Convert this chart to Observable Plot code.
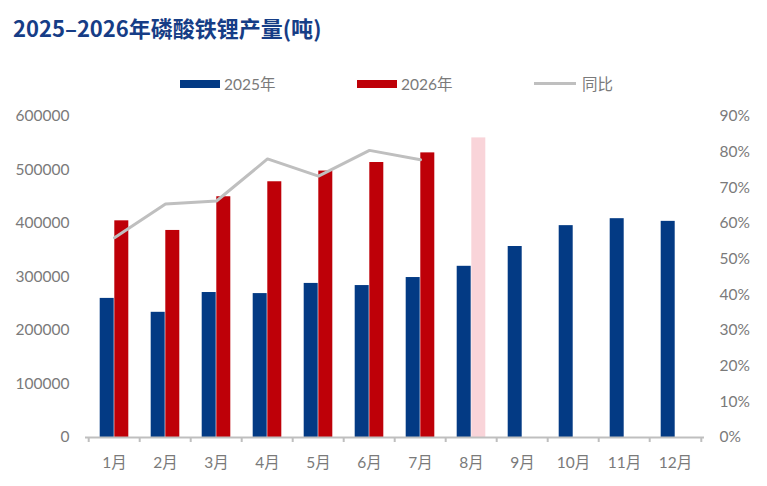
<!DOCTYPE html>
<html>
<head>
<meta charset="utf-8">
<script src="https://cdn.jsdelivr.net/npm/d3@7"></script>
<script src="https://cdn.jsdelivr.net/npm/@observablehq/plot@0.6"></script>
<style>
  html, body { margin: 0; padding: 0; background: #fff; }
  #wrap { position: relative; width: 767px; height: 486px; overflow: hidden; }
  #header { position: relative; width: 767px; height: 105px; }
  #title { position: absolute; left: 13px; top: 11px; font-family: "Noto Sans CJK SC", sans-serif; font-weight: 700; font-size: 22px; color: #163d86; white-space: nowrap; line-height: 32px; }
  .lg { position: absolute; font-family: Lato, "Noto Sans CJK SC", sans-serif; font-size: 15.5px; color: #7a7a7a; line-height: 20px; top: 74px; white-space: nowrap; }
  .sw { position: absolute; }
  #chart svg { display: block; }
</style>
</head>
<body>
<div id="wrap">
  <div id="header">
    <div id="title">2025–2026年磷酸铁锂产量(吨)</div>
    <div class="sw" style="left:180px;top:80px;width:40px;height:8px;background:#033a84"></div>
    <div class="lg" style="left:224px">2025年</div>
    <div class="sw" style="left:357px;top:80px;width:40px;height:8px;background:#be0008"></div>
    <div class="lg" style="left:401px">2026年</div>
    <div class="sw" style="left:534px;top:82px;width:42px;height:3px;background:#bfbfbf"></div>
    <div class="lg" style="left:582px">同比</div>
  </div>
  <div id="chart"></div>
</div>
<script>
const months = ["1月","2月","3月","4月","5月","6月","7月","8月","9月","10月","11月","12月"];
const output2025 = [260000, 234000, 271000, 269000, 288000, 284000, 299000, 320000, 357000, 396000, 409000, 404000];
const output2026 = [405000, 387000, 450000, 478000, 498000, 514000, 532000, 560000];
const yoy = [0.56, 0.655, 0.663, 0.781, 0.733, 0.805, 0.779];
const forecastMonths = ["8月"];
const leftTicks = [0, 100000, 200000, 300000, 400000, 500000, 600000];
const rightTicks = [0, 0.1, 0.2, 0.3, 0.4, 0.5, 0.6, 0.7, 0.8, 0.9];

const yMax = 600000, pMax = 0.9;
const k = yMax / pMax;

const bars2025 = output2025.map((v, i) => ({month: months[i], value: v}));
const bars2026 = output2026.map((v, i) => ({month: months[i], value: v}));
const lineData = yoy.map((v, i) => ({month: months[i], value: v}));

const W = 767, H = 381, mL = 85, mR = 63;
const step = (W - mL - mR) / months.length;
const grey = "#bfbfbf";
const txt = "#7a7a7a";
const font = "Lato, 'Noto Sans CJK SC', sans-serif";

const chart = Plot.plot({
  width: W,
  height: H,
  marginLeft: mL,
  marginRight: mR,
  marginTop: 11,
  marginBottom: 49,
  style: {fontFamily: font, fontSize: "15.5px", color: txt, background: "#fff"},
  x: {domain: months, type: "band", paddingInner: 0.717, paddingOuter: 0.3585, axis: null, label: null},
  y: {domain: [0, yMax], axis: null, label: null},
  marks: [
    Plot.barY(bars2025, {x: "month", y: "value", fill: "#033a84", dx: -7.3}),
    Plot.barY(bars2026, {x: "month", y: "value", dx: 7.3,
      fill: d => forecastMonths.includes(d.month) ? "#f9d4d9" : "#be0008"}),
    Plot.ruleY([0], {stroke: grey, strokeWidth: 2}),
    Plot.axisX({tickSize: 0, tickPadding: 19, fill: txt, fontSize: 15.5, label: null}),
    Plot.axisX(months, {dx: -step / 2, tickSize: 5, stroke: grey, strokeWidth: 2, tickFormat: () => "", label: null}),
    Plot.axisX([months[months.length - 1]], {dx: step / 2, tickSize: 5, stroke: grey, strokeWidth: 2, tickFormat: () => "", label: null}),
    Plot.axisY(leftTicks, {anchor: "left", tickSize: 0, tickPadding: 16, fill: txt, fontSize: 15.5, tickFormat: d => String(d), label: null}),
    Plot.axisY(rightTicks.map(p => p * k), {anchor: "right", tickSize: 0, tickPadding: 15, fill: txt, fontSize: 15.5,
      tickFormat: d => Math.round(d / k * 100) + "%", label: null}),
    Plot.lineY(lineData, {x: "month", y: d => d.value * k, stroke: grey, strokeWidth: 3})
  ]
});
document.getElementById("chart").appendChild(chart);
</script>
</body>
</html>
